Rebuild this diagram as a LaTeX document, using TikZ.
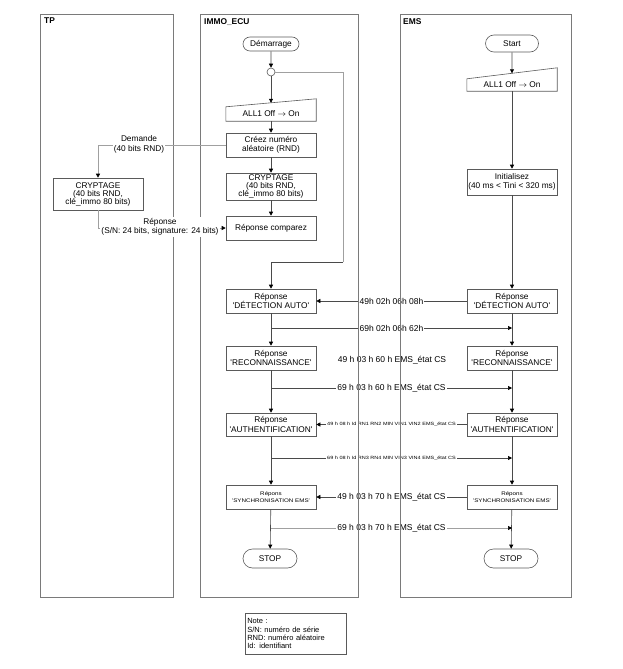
\documentclass[tikz,border=0pt]{standalone}
\usepackage{fontspec}
\usepackage{graphicx}
\setmainfont{Liberation Sans}
\usetikzlibrary{arrows.meta,shapes.misc}
\definecolor{lanec}{HTML}{7A7A7A}
\definecolor{boxc}{HTML}{5A5A5A}
\definecolor{linec}{HTML}{4A4A4A}
\definecolor{lightl}{HTML}{A0A0A0}
\newcommand\hsc[1]{\scalebox{1.2}[1]{#1}}
\newcommand\sq{\textquotesingle}
\begin{document}
\begin{tikzpicture}[x=1pt,y=-1pt,
  box/.style={draw=boxc, line width=0.6pt, minimum width=90pt, minimum height=24pt, inner sep=0.5pt, align=center, font=\fontsize{8.3}{9.5}\selectfont},
  tightbox/.style={box, font=\fontsize{8.3}{8}\selectfont},
  plain/.style={minimum width=90pt, inner sep=0pt, align=center, font=\fontsize{8.3}{9.5}\selectfont},
  term/.style={draw=boxc, rounded rectangle, line width=0.6pt, inner sep=0pt, font=\fontsize{8.3}{9.5}\selectfont},
  conn/.style={draw=linec, line width=0.6pt},
  arr/.style={conn, -{Triangle[length=4pt,width=4pt,color=black]}},
  msg/.style={fill=white, inner sep=1pt, font=\fontsize{8.5}{10}\selectfont},
  tinymsg/.style={fill=white, inner sep=1pt, font=\fontsize{4.6}{5}\selectfont},
  lane/.style={draw=lanec, line width=0.6pt},
  head/.style={anchor=north west, inner sep=0pt, font=\bfseries\fontsize{8.4}{9}\selectfont},
]
\useasboundingbox (0,0) rectangle (622,669);

% ---------- IMMO_ECU column ----------
\node[term, minimum width=56pt, minimum height=14pt] (dem) at (271,44) {Démarrage};
\node[draw=boxc, circle, line width=0.6pt, minimum size=8pt, inner sep=0pt] (c0) at (271,72) {};
\node[plain, minimum height=14pt] (a1) at (271,114) {ALL1 Off $\rightarrow$ On};
\draw[draw=boxc, line width=0.6pt] (a1.south west) -- (a1.south east) -- ([yshift=8pt]a1.north east) -- (a1.north west) -- cycle;
\node[box] (crz) at (271,145) {Créez numéro\\aléatoire (RND)};
\node[tightbox, minimum height=27pt] (icr) at (271,186.5) {CRYPTAGE\\(40 bits RND,\\clé\_immo 80 bits)};
\node[box] (rc) at (271,228) {Réponse comparez};
\node[box] (idet) at (271,301) {Réponse\\\sq DÉTECTION AUTO\sq};
\node[box] (ireco) at (271,358) {Réponse\\\sq RECONNAISSANCE\sq};
\node[box, minimum height=23pt] (iauth) at (271,424.5) {Réponse\\\sq AUTHENTIFICATION\sq};
\node[box, font=\fontsize{5.2}{7.5}\selectfont] (isync) at (271,497) {\hsc{Répons}\\\hsc{\sq SYNCHRONISATION EMS\sq}};
\node[term, minimum width=54pt, minimum height=19pt] (istop) at (270,558.5) {STOP};

% ---------- EMS column ----------
\node[term, minimum width=53pt, minimum height=17pt] (st) at (512,43.5) {Start};
\node[plain, minimum height=12pt] (a2) at (512,85) {ALL1 Off $\rightarrow$ On};
\draw[draw=boxc, line width=0.6pt] (a2.south west) -- (a2.south east) -- ([yshift=11pt]a2.north east) -- (a2.north west) -- cycle;
\node[box, minimum height=26pt] (ini) at (512,182) {Initialisez\\(40 ms < Tini < 320 ms)};
\node[box] (edet) at (512,301) {Réponse\\\sq DÉTECTION AUTO\sq};
\node[box] (ereco) at (512,358) {Réponse\\\sq RECONNAISSANCE\sq};
\node[box, minimum height=23pt] (eauth) at (512,424.5) {Réponse\\\sq AUTHENTIFICATION\sq};
\node[box, font=\fontsize{5.2}{7.5}\selectfont] (esync) at (512,497) {\hsc{Répons}\\\hsc{\sq SYNCHRONISATION EMS\sq}};
\node[term, minimum width=54pt, minimum height=19pt] (estop) at (511,558.5) {STOP};

% ---------- TP column ----------
\node[tightbox, minimum height=32pt] (tpc) at (98,194) {CRYPTAGE\\(40 bits RND,\\clé\_immo 80 bits)};

% ---------- IMMO flow ----------
\draw[arr] (dem) -- (c0);
\draw[arr] (c0) -- ([yshift=4pt]a1.north);
\draw[arr] (a1) -- (crz);
\draw[arr] (crz) -- (icr);
\draw[arr] (icr) -- (rc);
\coordinate (l1) at (343,72);
\coordinate (l2) at (343,262);
\draw[draw=lightl, line width=0.6pt] (c0) -- (l1) -- (l2);
\draw[arr] (l2) -| (idet.north);
\draw[arr] (idet) -- (ireco);
\draw[arr] (ireco) -- (iauth);
\draw[arr] (iauth) -- (isync);
\draw[arr] (isync) -- (istop);

% ---------- EMS flow ----------
\draw[arr] (st) -- ([yshift=5.5pt]a2.north);
\draw[arr] (a2) -- (ini);
\draw[arr] (ini) -- (edet);
\draw[arr] (edet) -- (ereco);
\draw[arr] (ereco) -- (eauth);
\draw[arr] (eauth) -- (esync);
\draw[arr] (esync) -- (estop);

% ---------- messages ----------
\draw[arr] (edet.west) -- (idet.east) node[msg, midway] {49h 02h 06h 08h};
\coordinate (j1) at (271,328); \coordinate (k1) at (512,328);
\draw[arr] (j1) -- (k1) node[msg, midway] {69h 02h 06h 62h};
\node[msg] (m3) at (392,360) {49 h 03 h 60 h EMS\_état CS};
\coordinate (j2) at (271,388); \coordinate (k2) at (512,388);
\draw[arr] (j2) -- (k2) node[msg, midway] {69 h 03 h 60 h EMS\_état CS};
\draw[arr] (eauth.west) -- (iauth.east) node[tinymsg, midway] {\hsc{49 h 08 h Id RN1 RN2 MIN VIN1 VIN2 EMS\_état CS}};
\coordinate (j3) at (271,458); \coordinate (k3) at (512,458);
\draw[arr] (j3) -- (k3) node[tinymsg, midway] {\hsc{69 h 08 h Id RN3 RN4 MIN VIN3 VIN4 EMS\_état CS}};
\draw[arr] (esync.west) -- (isync.east) node[msg, midway] {49 h 03 h 70 h EMS\_état CS};
\coordinate (j4) at (271,528); \coordinate (k4) at (512,528);
\draw[arr, draw=lightl] (j4) -- (k4) node[msg, midway] {69 h 03 h 70 h EMS\_état CS};

% ---------- lanes ----------
\draw[lane] (40,14) rectangle (173,597);
\draw[lane] (200,14) rectangle (358,597);
\draw[lane] (400,14) rectangle (571,597);
\node[head] (hTP) at (44,18) {TP};
\node[head] (hIMMO) at (204,18) {IMMO\_ECU};
\node[head] (hEMS) at (403,18) {EMS};

% ---------- TP exchanges ----------
\draw[arr, draw=lightl] (crz.west) -| (tpc.north);
\node[msg, align=center, font=\fontsize{8.3}{9.5}\selectfont] (dlab) at (139,144.5) {Demande\\(40 bits RND)};
\draw[arr, draw=lightl] (tpc.south) |- (rc.west);
\node[msg, align=center, font=\fontsize{8.3}{9.5}\selectfont] (rlab) at (160,227) {Réponse\\(S/N: 24 bits, signature: 24 bits)};

% ---------- note ----------
\node[draw=boxc, line width=0.6pt, anchor=north west, align=left, text width=97pt, minimum height=41pt, inner sep=2pt, font=\fontsize{7.5}{8.4}\selectfont] (note) at (245,613) {Note :\\S/N: numéro de série\\RND: numéro aléatoire\\Id: identifiant};
\end{tikzpicture}
\end{document}
